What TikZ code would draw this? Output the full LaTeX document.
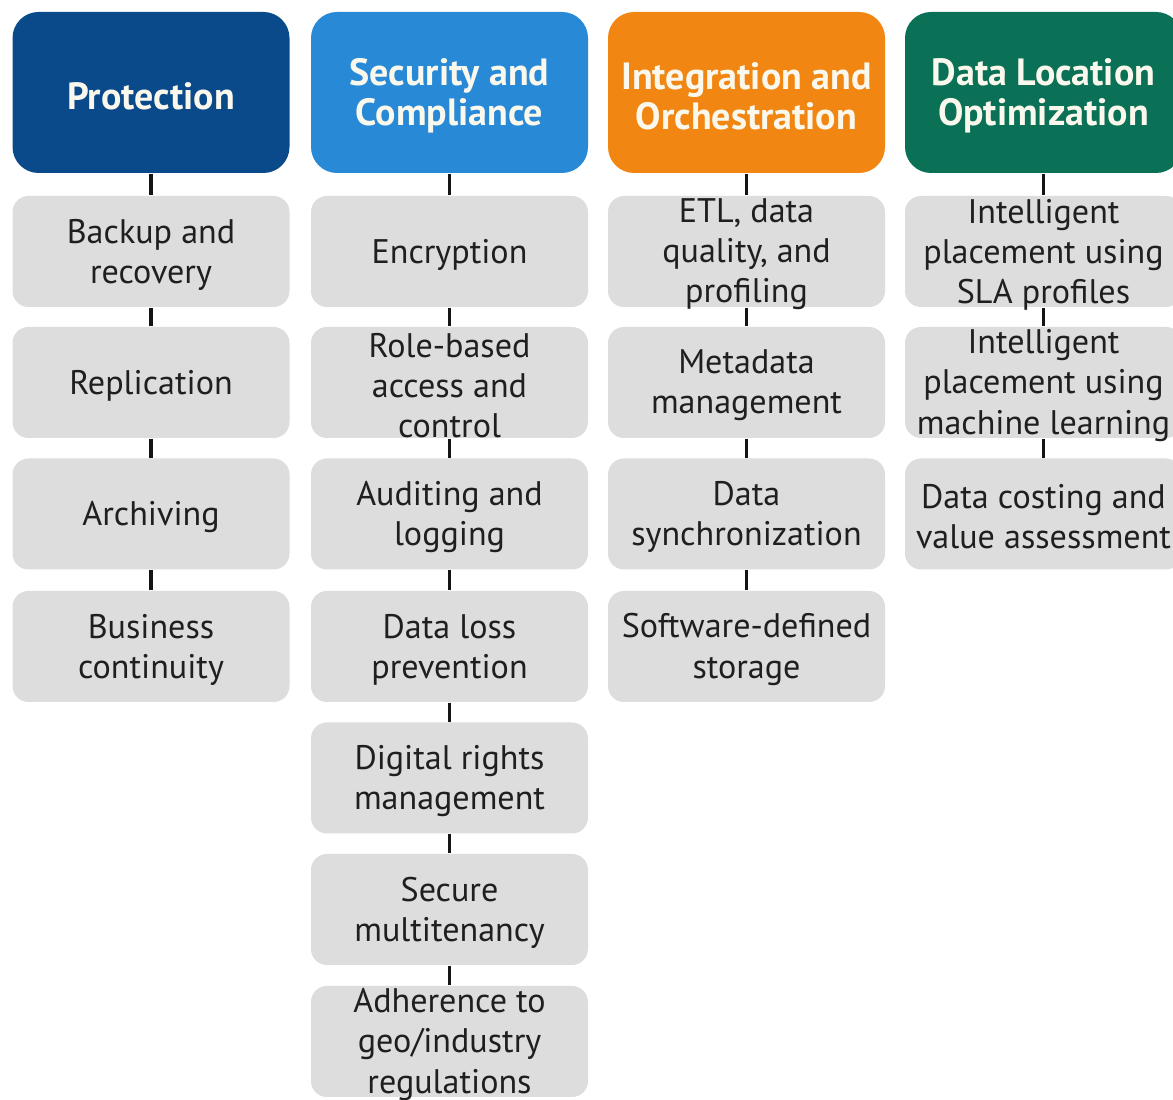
\documentclass[tikz,border=0pt]{standalone}
\usepackage{fontspec}
\setmainfont{PT Sans}
\definecolor{cprot}{RGB}{11,74,138}
\definecolor{csec}{RGB}{40,137,214}
\definecolor{cint}{RGB}{241,135,18}
\definecolor{cdlo}{RGB}{10,112,86}
\definecolor{itemgray}{RGB}{221,221,221}
\definecolor{hdtext}{RGB}{250,248,236}
\definecolor{linkcol}{RGB}{20,20,20}
\newcommand\headcell[4]{%
  \node[headbox, fill=#3] (#1) at (#2,92.5) {};
  \node[headtxt] (#1t) at ([yshift=-0.35mm]#1.center) {#4};}
\newcommand\itemcell[4]{%
  \node[itembox] (#1) at (#2,#3) {};
  \node[itemtxt] (#1t) at ([yshift=-0.3mm]#1.center) {#4};}
\begin{document}
\begin{tikzpicture}[x=0.1mm,y=-0.1mm,
  headbox/.style={inner sep=0pt, minimum width=27.7mm, minimum height=16.1mm, rounded corners=2.6mm},
  headtxt/.style={align=center, inner sep=0pt, text=hdtext,
    font=\fontsize{10.8}{11.5}\selectfont\bfseries},
  itembox/.style={inner sep=0pt, fill=itemgray, minimum width=27.7mm, minimum height=11.1mm, rounded corners=1.6mm},
  itemtxt/.style={align=center, inner sep=0pt, text=black!88, font=\fontsize{9.7}{11.4}\selectfont},
  link/.style={draw=linkcol, line width=0.38mm}]
\useasboundingbox[fill=white] (0,0) rectangle (1173,1100);

% headers
\headcell{h1}{151}{cprot}{Protection}
\headcell{h2}{449.5}{csec}{Security and\\Compliance}
\headcell{h3}{746.5}{cint}{Integration and\\Orchestration}
\headcell{h4}{1043.5}{cdlo}{Data Location\\Optimization}

% column 1
\itemcell{a1}{151}{251.5}{Backup and\\recovery}
\itemcell{a2}{151}{382.5}{Replication}
\itemcell{a3}{151}{514}{Archiving}
\itemcell{a4}{151}{646.5}{Business\\continuity}

% column 2
\itemcell{b1}{449.5}{251.5}{Encryption}
\itemcell{b2}{449.5}{382.5}{Role-based\\access and\\control}
\itemcell{b3}{449.5}{514}{Auditing and\\logging}
\itemcell{b4}{449.5}{646.5}{Data loss\\prevention}
\itemcell{b5}{449.5}{778}{Digital rights\\management}
\itemcell{b6}{449.5}{909.5}{Secure\\multitenancy}
\itemcell{b7}{449.5}{1041.5}{Adherence to\\geo/industry\\regulations}

% column 3
\itemcell{c1}{746.5}{251.5}{ETL, data\\quality, and\\profiling}
\itemcell{c2}{746.5}{382.5}{Metadata\\management}
\itemcell{c3}{746.5}{514}{Data\\synchronization}
\itemcell{c4}{746.5}{646.5}{Software-defined\\storage}

% column 4
\itemcell{d1}{1043.5}{251.5}{Intelligent\\placement using\\SLA profiles}
\itemcell{d2}{1043.5}{382.5}{Intelligent\\placement using\\machine learning}
\itemcell{d3}{1043.5}{514}{Data costing and\\value assessment}

% connectors
\draw[link] (h1.south) -- (a1.north);
\draw[link] (a1.south) -- (a2.north);
\draw[link] (a2.south) -- (a3.north);
\draw[link] (a3.south) -- (a4.north);

\draw[link] (h2.south) -- (b1.north);
\draw[link] (b1.south) -- (b2.north);
\draw[link] (b2.south) -- (b3.north);
\draw[link] (b3.south) -- (b4.north);
\draw[link] (b4.south) -- (b5.north);
\draw[link] (b5.south) -- (b6.north);
\draw[link] (b6.south) -- (b7.north);

\draw[link] (h3.south) -- (c1.north);
\draw[link] (c1.south) -- (c2.north);
\draw[link] (c2.south) -- (c3.north);
\draw[link] (c3.south) -- (c4.north);

\draw[link] (h4.south) -- (d1.north);
\draw[link] (d1.south) -- (d2.north);
\draw[link] (d2.south) -- (d3.north);
\end{tikzpicture}
\end{document}
